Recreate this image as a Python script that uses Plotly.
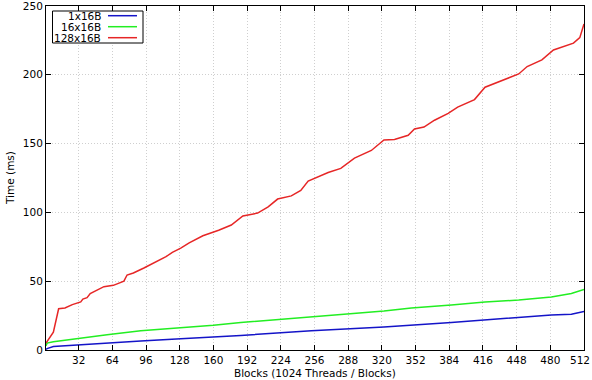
import plotly.graph_objects as go

# ---- data ----
red_x = [1, 8, 13, 19, 26, 34, 36, 40, 43, 50, 56, 65, 75, 78, 84, 94, 105, 115, 121, 129, 137,
         150, 165, 177, 188, 202, 212, 221, 234, 243, 250, 259, 269, 281, 294, 310, 322, 332,
         345, 351, 360, 370, 383, 392, 402, 408, 418, 434, 450, 458, 472, 483, 494, 502, 508, 512]
red_y = [5, 13, 30, 30.5, 33, 35, 37, 38, 41, 43.6, 46, 47, 50, 54.5, 56, 59.6, 64, 67.8, 71, 74, 77.8,
         83, 87, 90.8, 97.4, 99.5, 104, 109.7, 112, 116, 122.8, 125.5, 129, 132, 139.5, 145, 152.6, 153,
         156, 160.6, 162, 167, 172, 176.5, 180, 182, 191, 196, 200.6, 206, 210.8, 218, 221, 223, 227, 237]

green_x = [1, 2, 8, 34, 59, 91, 129, 160, 186, 224, 259, 284, 322, 348, 386, 418, 450, 481, 500, 512]
green_y = [3, 5, 6, 8.7, 11, 14, 16, 18, 20, 22.5, 24.5, 26, 28.3, 30.5, 32.7, 34.9, 36.3, 38.5, 41, 44]

blue_x = [1, 2, 8, 34, 91, 129, 186, 253, 322, 386, 418, 450, 481, 500, 512]
blue_y = [0.5, 1, 2.5, 3.6, 6.5, 8.2, 10.6, 14, 16.8, 20, 22, 23.7, 25.4, 26, 28]

series_names = ["1x16B", "16x16B", "128x16B"]
series_colors = ["#1414c8", "#22ee22", "#e62626"]
x_ticks = list(range(32, 513, 32))
y_ticks = list(range(0, 251, 50))
x_title = "Blocks (1024 Threads / Blocks)"
y_title = "Time (ms)"

FONT = "DejaVu Sans"

fig = go.Figure()
for xs, ys, name, col in zip([blue_x, green_x, red_x], [blue_y, green_y, red_y], series_names, series_colors):
    fig.add_trace(go.Scatter(x=xs, y=ys, mode="lines", name=name,
                             line=dict(color=col, width=1.5), showlegend=False))

axis_common = dict(showline=True, linecolor="#000000", linewidth=1, mirror="ticks",
                   ticks="inside", ticklen=5, tickcolor="#000000", tickwidth=1,
                   showgrid=True, gridcolor="#cfcfcf", griddash="1px,2px", gridwidth=1,
                   zeroline=False, automargin=False, ticklabeloverflow="allow",
                   tickfont=dict(family=FONT, size=10.5, color="#000000"))

# last x tick label is drawn separately so it stays inside the page
x_ticktext = [str(v) for v in x_ticks[:-1]] + [""]
fig.update_xaxes(range=[1, 512], tickvals=x_ticks, ticktext=x_ticktext, **axis_common)
fig.update_yaxes(range=[0, 250], tickvals=y_ticks, ticktext=[str(v) for v in y_ticks], **axis_common)

L, R, T, B = 46, 8, 6, 30
W, H = 592, 380
pw, ph = W - L - R, H - T - B

def px(x):
    return (x - L) / pw

def py(y):
    return (H - B - y) / ph

shapes = []
annotations = []
# legend box
shapes.append(dict(type="rect", xref="paper", yref="paper", x0=px(52.5), x1=px(143),
                   y0=py(43), y1=py(11), line=dict(color="#000000", width=1), fillcolor="white"))
rows = [15.7, 26.7, 37.7]
for name, col, ry in zip(series_names, series_colors, rows):
    annotations.append(dict(xref="paper", yref="paper", x=px(102.5), y=py(ry), text=name,
                            showarrow=False, xanchor="right", yanchor="middle",
                            font=dict(family=FONT, size=10.5, color="#000000")))
    shapes.append(dict(type="line", xref="paper", yref="paper", x0=px(108), x1=px(137),
                       y0=py(ry), y1=py(ry), line=dict(color=col, width=1.5)))

annotations.append(dict(xref="paper", yref="paper", x=px(591), y=0, yshift=-3, text=str(x_ticks[-1]),
                        showarrow=False, xanchor="right", yanchor="top", borderpad=0,
                        font=dict(family=FONT, size=10.5, color="#000000")))
annotations.append(dict(xref="paper", yref="paper", x=0.5, y=py(372.5), text=x_title, showarrow=False,
                        xanchor="center", yanchor="middle",
                        font=dict(family=FONT, size=10.5, color="#000000")))
annotations.append(dict(xref="paper", yref="paper", x=px(10), y=py(178), text=y_title, showarrow=False,
                        xanchor="center", yanchor="middle", textangle=-90,
                        font=dict(family=FONT, size=10.5, color="#000000")))

fig.update_layout(width=W, height=H, margin=dict(l=L, r=R, t=T, b=B, autoexpand=False),
                  plot_bgcolor="white", paper_bgcolor="white",
                  shapes=shapes, annotations=annotations, showlegend=False)

fig.write_html("out.html")
